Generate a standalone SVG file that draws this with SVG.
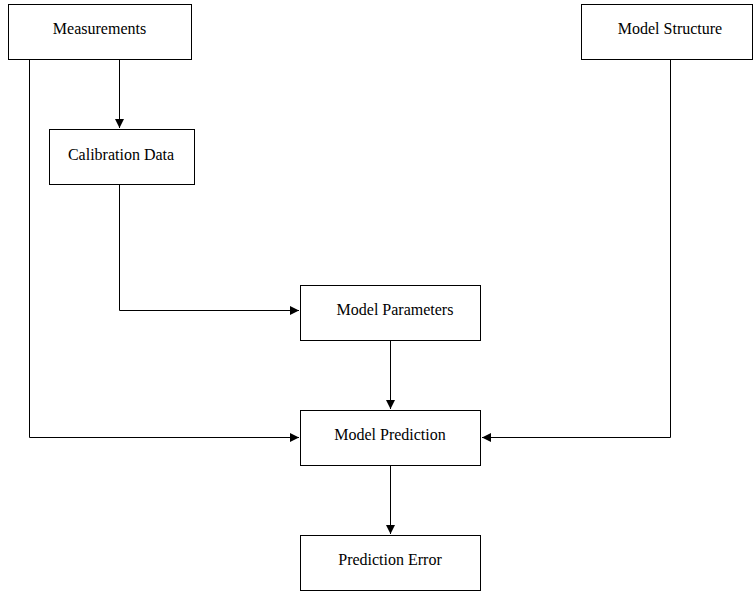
<svg xmlns="http://www.w3.org/2000/svg" width="754" height="593" viewBox="0 0 754 593">
<style>
.box{fill:#fff;stroke:#000;stroke-width:1}
.lbl{font-family:'Liberation Serif','Times New Roman','DejaVu Serif',serif;font-size:16px;fill:#000;text-anchor:middle}
.edge{fill:none;stroke:#000;stroke-width:1}
</style>
<defs>
<marker id="arr" viewBox="0 0 10 10" refX="10" refY="5" markerWidth="9" markerHeight="9" markerUnits="userSpaceOnUse" orient="auto">
<path d="M0,0 L10,5 L0,10 z" fill="#000"/>
</marker>
</defs>
<rect width="754" height="593" fill="#fff"/>
<g id="connectors">
<path class="edge" d="M119.5,59 V128" marker-end="url(#arr)"/>
<path class="edge" d="M119.5,184 V310.5 H299" marker-end="url(#arr)"/>
<path class="edge" d="M29.5,59 V437.5 H299" marker-end="url(#arr)"/>
<path class="edge" d="M670.5,59 V437.5 H482" marker-end="url(#arr)"/>
<path class="edge" d="M390.5,340 V409" marker-end="url(#arr)"/>
<path class="edge" d="M390.5,465 V534" marker-end="url(#arr)"/>
</g>
<g id="measurements"><rect class="box" x="8.5" y="4.5" width="183" height="55"/><text class="lbl" x="99.5" y="33.5">Measurements</text></g>
<g id="model-structure"><rect class="box" x="581.5" y="4.5" width="171" height="55"/><text class="lbl" x="670" y="33.5">Model Structure</text></g>
<g id="calibration-data"><rect class="box" x="49.5" y="129.5" width="145" height="55"/><text class="lbl" x="121" y="159.5">Calibration Data</text></g>
<g id="model-parameters"><rect class="box" x="300.5" y="285.5" width="180" height="55"/><text class="lbl" x="395" y="314.5">Model Parameters</text></g>
<g id="model-prediction"><rect class="box" x="300.5" y="410.5" width="180" height="55"/><text class="lbl" x="390" y="439.5">Model Prediction</text></g>
<g id="prediction-error"><rect class="box" x="300.5" y="535.5" width="180" height="55"/><text class="lbl" x="390" y="564.5">Prediction Error</text></g>
</svg>
